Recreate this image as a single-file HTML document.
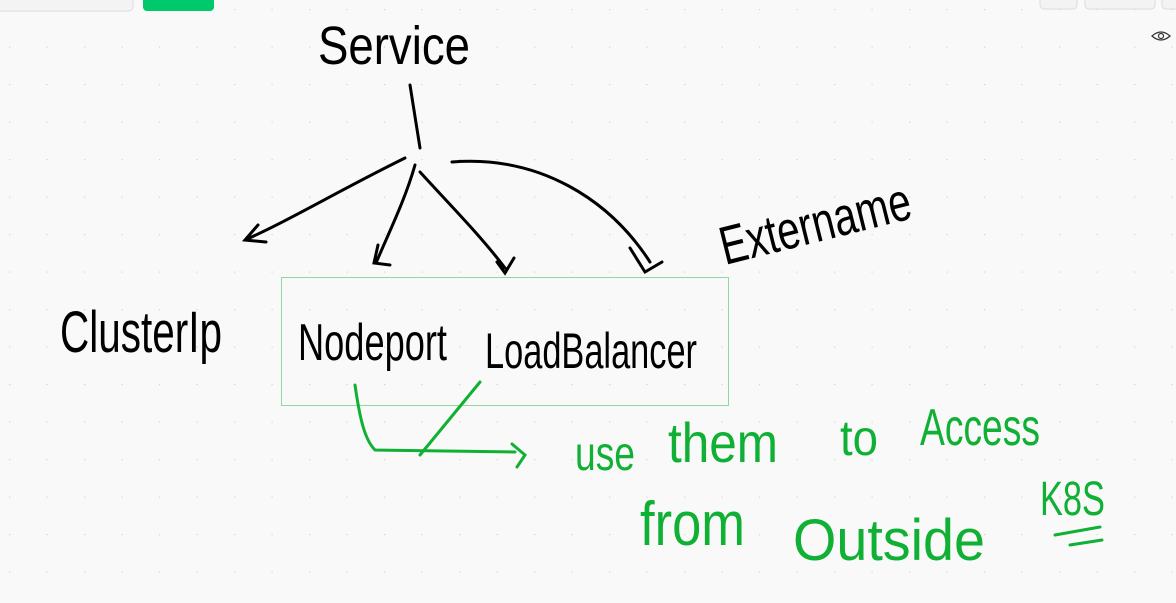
<!DOCTYPE html>
<html><head><meta charset="utf-8"><style>
html,body{margin:0;padding:0;width:1176px;height:603px;overflow:hidden;background:#f9f9f9}
svg{position:absolute;left:0;top:0}
text{font-family:"Liberation Sans Narrow","Liberation Sans",sans-serif;font-weight:normal}
</style></head><body>
<svg width="1176" height="603" viewBox="0 0 1176 603">
<defs><pattern id="g" x="9" y="9" width="37.5" height="37.5" patternUnits="userSpaceOnUse"><circle cx="0.5" cy="0.5" r="0.8" fill="#d4d4d4"/></pattern></defs>
<rect width="1176" height="603" fill="url(#g)"/>
<rect x="-5" y="-10" width="138" height="21" rx="4" fill="#f3f3f3" stroke="#dcdcdc"/>
<rect x="143" y="-10" width="71" height="21" rx="4" fill="#00c96b"/>
<rect x="1040" y="-10" width="37" height="19" rx="4" fill="#f3f3f3" stroke="#dcdcdc"/>
<rect x="1085" y="-10" width="70" height="19" rx="4" fill="#f3f3f3" stroke="#dcdcdc"/>
<rect x="1162" y="-10" width="20" height="19" rx="4" fill="#f3f3f3" stroke="#dcdcdc"/>
<path d="M1152 36 q9 -8 18 0 q-9 8 -18 0z" fill="none" stroke="#333" stroke-width="1.3"/><circle cx="1161" cy="36" r="2.5" fill="none" stroke="#333" stroke-width="1.2"/>

<g fill="#000">
<text x="318" y="64" font-size="54" textLength="152" lengthAdjust="spacingAndGlyphs">Service</text>
<text x="60" y="352" font-size="58" textLength="162" lengthAdjust="spacingAndGlyphs">ClusterIp</text>
<text x="298" y="360" font-size="52" textLength="149" lengthAdjust="spacingAndGlyphs">Nodeport</text>
<text x="485" y="368" font-size="50" textLength="212" lengthAdjust="spacingAndGlyphs">LoadBalancer</text>
<text x="725" y="265" font-size="54" textLength="195" lengthAdjust="spacingAndGlyphs" transform="rotate(-14 725 265)">Extername</text>
</g>
<g fill="none" stroke="#000" stroke-width="3" stroke-linecap="round">
<path d="M410 85 L420 148"/>
<path d="M405 158 C340 190 290 220 245 240 M258 225 L245 240 L266 242"/>
<path d="M415 165 C405 200 390 230 376 263 M378 245 L374 263 L390 265"/>
<path d="M420 172 C450 205 480 235 505 268 M497 262 L505 273 L514 258"/>
<path d="M452 162 C540 155 610 200 650 262 M630 248 L645 272 L662 262"/>
</g>
<rect x="281.5" y="277.5" width="447" height="128" fill="none" stroke="#8fd9a0" stroke-width="1"/>
<g fill="none" stroke="#10b035" stroke-width="3" stroke-linecap="round">
<path d="M355 385 C360 420 365 440 375 450 L515 452 M512 444 L525 455 L517 467"/>
<path d="M480 382 L420 455"/>
<path d="M1055 535 L1100 527 M1070 545 L1102 540"/>
</g>
<g fill="#10b035">
<text x="575" y="470" font-size="48" textLength="60" lengthAdjust="spacingAndGlyphs">use</text>
<text x="668" y="462" font-size="56" textLength="110" lengthAdjust="spacingAndGlyphs">them</text>
<text x="840" y="455" font-size="50" textLength="38" lengthAdjust="spacingAndGlyphs">to</text>
<text x="920" y="445" font-size="52" textLength="120" lengthAdjust="spacingAndGlyphs">Access</text>
<text x="640" y="545" font-size="62" textLength="105" lengthAdjust="spacingAndGlyphs">from</text>
<text x="793" y="560" font-size="58" textLength="192" lengthAdjust="spacingAndGlyphs">Outside</text>
<text x="1040" y="515" font-size="48" textLength="65" lengthAdjust="spacingAndGlyphs">K8S</text>
</g>
</svg>
</body></html>
